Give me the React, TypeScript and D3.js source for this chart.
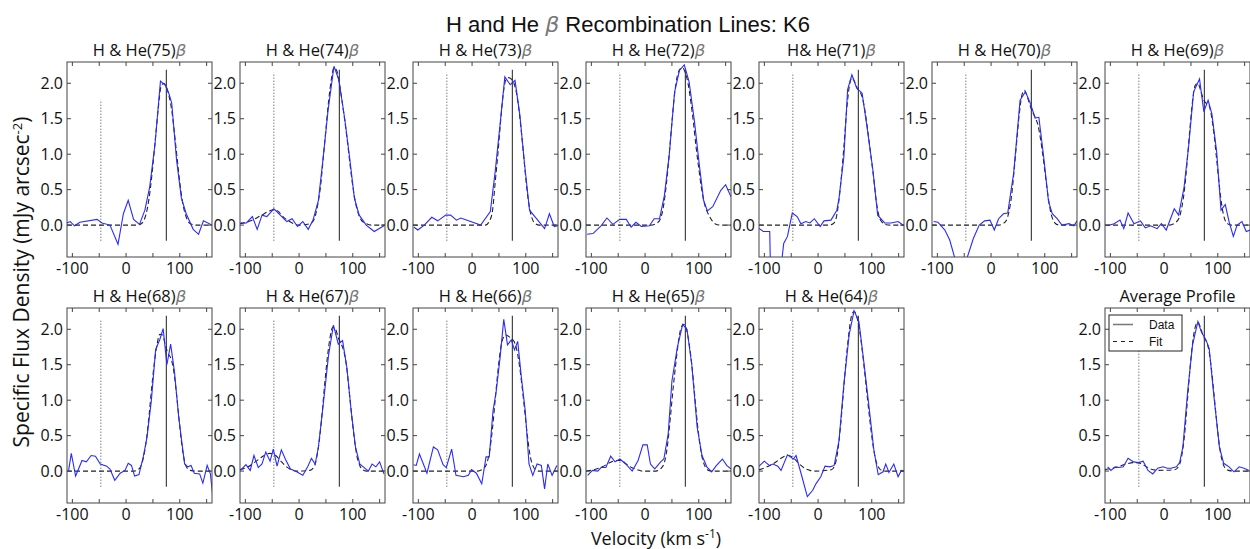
import React from "react";
import * as d3 from "d3";

type Pt = [number, number];

const panelTitles = ["H & He(75)", "H & He(74)", "H & He(73)", "H & He(72)", "H& He(71)", "H & He(70)", "H & He(69)", "H & He(68)", "H & He(67)", "H & He(66)", "H & He(65)", "H & He(64)", "Average Profile"];
const panelHasBeta = [true, true, true, true, true, true, true, true, true, true, true, true, false];

const data75: Pt[] = [[-110,0.03],[-104,0.05],[-96,-0.01],[-86,0.04],[-54,0.08],[-45,0.03],[-30,0.0],[-15,-0.27],[-5,0.16],[4,0.35],[14,0.08],[25,0.01],[35,0.21],[44,0.54],[54,1.15],[64,2.03],[73,1.97],[80,1.85],[85,1.72],[94,0.92],[103,0.38],[112,0.16],[125,-0.06],[135,-0.13],[144,0.06],[160,0.0]];
const data74: Pt[] = [[-109,0.03],[-98,0.03],[-87,0.12],[-78,-0.06],[-69,0.14],[-60,0.12],[-47,0.23],[-35,0.14],[-23,0.05],[-13,0.09],[-3,-0.02],[7,0.05],[17,-0.06],[26,0.07],[36,0.35],[45,0.96],[54,1.62],[65,2.24],[74,2.05],[85,1.5],[94,0.96],[103,0.38],[112,0.14],[125,0.0],[140,-0.09],[158,-0.01]];
const data73: Pt[] = [[-108,-0.03],[-101,-0.07],[-89,0.0],[-75,0.11],[-64,0.06],[-49,0.14],[-40,0.14],[-29,0.07],[-21,0.1],[16,0.0],[34,0.19],[43,0.75],[52,1.41],[61,2.09],[71,1.98],[80,2.04],[89,1.55],[98,0.84],[107,0.21],[120,0.09],[135,-0.05],[144,0.16],[153,-0.02],[160,-0.01]];
const data72: Pt[] = [[-108,-0.13],[-97,-0.12],[-82,-0.01],[-71,0.1],[-60,0.01],[-47,0.08],[-35,0.08],[-26,-0.03],[-17,0.04],[-7,-0.02],[8,-0.01],[17,0.09],[27,0.09],[36,0.42],[45,0.99],[55,1.88],[64,2.18],[73,2.26],[82,2.02],[92,1.46],[101,0.85],[109,0.35],[116,0.2],[126,0.26],[141,0.49],[150,0.57],[160,0.4]];
const data71: Pt[] = [[-111,-0.04],[-102,-0.09],[-90,-0.09],[-88,-0.9],[-72,-0.8],[-64,-0.26],[-57,-0.16],[-48,0.17],[-39,0.12],[-32,0.02],[-23,0.05],[-15,0.03],[-7,0.09],[4,-0.02],[11,0.06],[24,0.07],[35,0.21],[39,0.38],[48,0.96],[55,1.91],[63,2.12],[72,1.93],[82,1.86],[92,1.34],[102,0.78],[111,0.14],[124,0.03],[136,0.03],[149,0.05],[160,-0.01]];
const data70: Pt[] = [[-107,0.05],[-99,0.04],[-86,-0.07],[-77,-0.21],[-57,-0.75],[-33,-0.19],[-22,0.0],[-12,0.06],[-2,0.07],[6,-0.07],[14,0.09],[23,0.16],[31,0.17],[42,0.73],[54,1.76],[64,1.88],[73,1.72],[82,1.51],[89,1.52],[98,0.96],[107,0.33],[114,0.16],[123,0.09],[132,0.0],[145,0.02],[154,-0.01],[162,0.08]];
const data69: Pt[] = [[-106,-0.01],[-93,0.02],[-82,0.07],[-75,-0.05],[-67,0.17],[-56,0.02],[-44,0.06],[-35,-0.04],[-25,-0.01],[-13,-0.05],[-5,0.02],[4,-0.07],[19,0.23],[27,0.14],[37,0.52],[46,1.13],[55,1.88],[66,2.06],[74,1.6],[82,1.76],[89,1.57],[98,1.03],[106,0.21],[114,0.29],[121,0.05],[129,-0.16],[136,0.0],[145,0.05],[153,-0.09],[160,-0.07]];
const data68: Pt[] = [[-107,0.01],[-102,0.25],[-94,-0.07],[-82,0.15],[-74,0.13],[-65,0.22],[-57,0.21],[-48,0.1],[-36,0.07],[-30,0.03],[-21,-0.13],[-11,-0.03],[-2,0.01],[4,0.11],[10,0.08],[16,-0.07],[24,-0.05],[32,0.2],[39,0.48],[47,0.99],[55,1.71],[63,1.86],[69,2.01],[76,1.5],[83,1.79],[90,1.41],[98,0.76],[109,0.1],[115,0.06],[121,0.08],[127,-0.03],[137,-0.04],[143,-0.17],[151,0.08],[157,-0.04],[161,-0.32]];
const data67: Pt[] = [[-109,0.01],[-99,0.09],[-91,0.01],[-84,0.22],[-76,0.05],[-69,0.1],[-62,0.27],[-54,0.14],[-48,0.31],[-41,0.07],[-33,0.3],[-25,0.16],[-16,0.03],[-7,0.0],[7,-0.06],[16,0.06],[23,0.18],[30,0.1],[36,0.34],[45,0.94],[55,1.64],[64,2.06],[73,1.79],[81,1.84],[89,1.46],[97,0.85],[105,0.34],[113,0.1],[129,0.0],[136,0.1],[143,0.06],[150,0.13],[158,-0.04]];
const data66: Pt[] = [[-109,0.09],[-104,0.08],[-98,0.24],[-84,-0.03],[-72,0.34],[-64,0.3],[-54,0.09],[-48,0.05],[-38,0.31],[-30,-0.06],[-16,-0.08],[-7,-0.06],[-1,0.02],[8,-0.03],[18,-0.18],[26,0.2],[32,0.2],[39,0.85],[45,1.13],[52,1.59],[59,2.14],[66,1.78],[73,1.85],[79,1.71],[85,1.83],[92,1.31],[99,0.85],[106,0.1],[113,-0.06],[121,0.1],[129,0.08],[135,-0.25],[141,0.1],[149,-0.06],[158,0.08]];
const data65: Pt[] = [[-107,-0.06],[-98,0.01],[-88,0.0],[-82,0.05],[-73,0.05],[-64,0.21],[-56,0.13],[-47,0.17],[-36,0.1],[-24,0.0],[-13,0.15],[-4,0.37],[4,0.37],[10,0.1],[18,0.03],[29,0.13],[35,0.17],[43,0.52],[50,1.27],[60,1.74],[70,2.07],[78,2.0],[87,1.5],[97,0.62],[106,0.22],[115,0.06],[124,-0.01],[133,0.08],[144,0.17],[152,0.08],[160,0.03]];
const data64: Pt[] = [[-110,0.07],[-100,0.14],[-91,0.08],[-84,0.1],[-75,0.07],[-69,0.01],[-57,0.23],[-46,0.17],[-41,0.22],[-30,-0.08],[-20,-0.36],[-10,-0.27],[-4,-0.18],[5,-0.08],[13,0.07],[22,0.06],[30,0.08],[39,0.43],[48,1.22],[58,1.93],[67,2.26],[76,2.11],[85,1.55],[95,0.9],[104,0.29],[112,-0.05],[121,-0.01],[126,0.1],[132,-0.02],[141,0.1],[149,-0.08],[155,0.01],[162,0.0]];
const dataAvg: Pt[] = [[-105,0.06],[-99,0.01],[-91,0.06],[-84,0.05],[-76,0.06],[-67,0.18],[-57,0.13],[-47,0.12],[-39,0.14],[-30,0.01],[-21,-0.04],[-12,0.04],[-2,0.06],[6,0.04],[13,0.04],[23,0.06],[29,0.12],[35,0.34],[44,1.13],[53,1.78],[63,2.11],[69,1.97],[78,1.85],[84,1.73],[93,1.04],[103,0.34],[111,0.11],[121,0.06],[130,-0.01],[140,0.06],[149,0.04],[158,0.01]];

const fit75: Pt[] = [[-110,0],[20,0],[30,0.03],[35,0.1],[40,0.25],[45,0.5],[50,0.85],[55,1.25],[60,1.65],[65,1.95],[70,2.0],[75,1.95],[80,1.82],[85,1.62],[90,1.3],[95,0.95],[100,0.6],[105,0.33],[110,0.16],[115,0.06],[120,0.02],[130,0],[160,0]];
const fit74: Pt[] = [[-110,0.02],[-90,0.06],[-70,0.14],[-55,0.2],[-47,0.22],[-40,0.2],[-30,0.12],[-20,0.06],[-10,0.02],[0,0.0],[20,0.02],[28,0.08],[35,0.3],[40,0.55],[45,0.95],[50,1.35],[55,1.75],[60,2.05],[65,2.22],[70,2.18],[75,2.0],[80,1.75],[85,1.48],[90,1.18],[95,0.85],[100,0.55],[105,0.32],[110,0.17],[115,0.08],[120,0.04],[125,0.02],[135,0],[160,0]];
const fit73: Pt[] = [[-110,0],[25,0],[32,0.05],[38,0.2],[43,0.6],[48,1.0],[53,1.45],[58,1.85],[63,2.05],[68,2.08],[73,2.06],[78,2.0],[83,1.85],[88,1.58],[93,1.22],[98,0.82],[103,0.45],[108,0.2],[113,0.07],[118,0.02],[125,0],[160,0]];
const fit72: Pt[] = [[-110,0],[10,0],[20,0.02],[28,0.08],[35,0.3],[40,0.6],[45,1.0],[50,1.45],[55,1.85],[60,2.1],[65,2.2],[70,2.22],[75,2.15],[80,2.0],[85,1.75],[90,1.45],[95,1.1],[100,0.8],[105,0.52],[110,0.32],[115,0.2],[120,0.12],[125,0.06],[130,0.02],[140,0],[160,0]];
const fit71: Pt[] = [[-110,0],[20,0],[28,0.02],[33,0.08],[38,0.3],[43,0.65],[48,1.1],[53,1.6],[58,1.95],[63,2.08],[68,2.02],[73,1.93],[78,1.88],[83,1.78],[88,1.58],[93,1.3],[98,1.0],[103,0.7],[108,0.36],[113,0.14],[118,0.05],[125,0.01],[135,0],[160,0]];
const fit70: Pt[] = [[-110,0],[15,0],[22,0.02],[28,0.06],[33,0.18],[38,0.4],[43,0.78],[48,1.2],[53,1.6],[58,1.85],[62,1.9],[67,1.82],[72,1.7],[77,1.6],[82,1.52],[87,1.42],[92,1.22],[97,0.95],[102,0.65],[107,0.36],[112,0.15],[117,0.05],[122,0.01],[130,0],[160,0]];
const fit69: Pt[] = [[-110,0],[10,0],[20,0.03],[28,0.1],[33,0.25],[38,0.5],[43,0.9],[48,1.35],[53,1.75],[58,1.97],[63,2.0],[68,1.9],[73,1.78],[78,1.72],[83,1.7],[88,1.55],[93,1.28],[98,0.92],[103,0.55],[108,0.25],[113,0.08],[118,0.02],[125,0],[160,0]];
const fit68: Pt[] = [[-110,0],[15,0],[25,0.04],[32,0.18],[38,0.45],[43,0.8],[48,1.2],[53,1.55],[58,1.8],[63,1.93],[68,1.92],[73,1.78],[78,1.66],[83,1.6],[88,1.45],[93,1.15],[98,0.78],[103,0.42],[108,0.17],[113,0.05],[120,0.01],[130,0],[160,0]];
const fit67: Pt[] = [[-110,0.02],[-95,0.06],[-80,0.14],[-65,0.22],[-55,0.25],[-45,0.23],[-35,0.15],[-25,0.07],[-15,0.02],[-5,0],[20,0.01],[28,0.06],[33,0.2],[38,0.45],[43,0.82],[48,1.25],[53,1.62],[58,1.9],[63,2.03],[68,2.0],[73,1.88],[78,1.8],[83,1.7],[88,1.5],[93,1.15],[98,0.78],[103,0.45],[108,0.2],[113,0.08],[118,0.02],[125,0],[160,0]];
const fit66: Pt[] = [[-110,0],[10,0],[20,0.03],[27,0.1],[33,0.3],[38,0.6],[43,1.0],[48,1.4],[53,1.72],[58,1.88],[63,1.92],[68,1.9],[73,1.87],[78,1.83],[83,1.72],[88,1.5],[93,1.2],[98,0.85],[103,0.5],[108,0.22],[113,0.08],[118,0.02],[125,0],[160,0]];
const fit65: Pt[] = [[-110,0],[-95,0.02],[-80,0.06],[-65,0.12],[-55,0.15],[-45,0.15],[-35,0.1],[-25,0.05],[-15,0.02],[-5,0],[20,0],[30,0.04],[37,0.15],[42,0.38],[47,0.75],[52,1.15],[57,1.5],[62,1.82],[67,2.02],[72,2.07],[77,2.0],[82,1.8],[87,1.5],[92,1.1],[97,0.7],[102,0.38],[107,0.17],[112,0.06],[118,0.01],[125,0],[160,0]];
const fit64: Pt[] = [[-110,0.02],[-95,0.06],[-80,0.12],[-65,0.2],[-55,0.22],[-45,0.18],[-35,0.1],[-25,0.04],[-15,0.01],[-5,0],[25,0.02],[32,0.1],[37,0.3],[42,0.65],[47,1.1],[52,1.55],[57,1.92],[62,2.18],[67,2.25],[72,2.18],[77,2.0],[82,1.72],[87,1.38],[92,1.02],[97,0.68],[102,0.38],[107,0.17],[112,0.06],[118,0.01],[125,0],[160,0]];
const fitAvg: Pt[] = [[-110,0.02],[-90,0.05],[-70,0.1],[-55,0.12],[-45,0.11],[-35,0.07],[-25,0.03],[-10,0.01],[20,0.02],[28,0.08],[33,0.22],[38,0.5],[43,0.95],[48,1.42],[53,1.8],[58,2.03],[63,2.1],[68,2.02],[73,1.9],[78,1.84],[83,1.72],[88,1.45],[93,1.08],[98,0.7],[103,0.36],[108,0.15],[113,0.05],[120,0.01],[130,0],[160,0]];

const panelData = [data75, data74, data73, data72, data71, data70, data69, data68, data67, data66, data65, data64, dataAvg];
const panelFit = [fit75, fit74, fit73, fit72, fit71, fit70, fit69, fit68, fit67, fit66, fit65, fit64, fitAvg];
const dottedTop = [1.77, 2.15, 2.15, 2.15, 2.15, 2.15, 2.15, 2.15, 2.15, 2.15, 2.15, 2.15, 2.15];

const restVelocity = 75;
const offsetVelocity = -47;
const lineBottom = -0.22;
const solidTop = 2.19;

const xDomain: [number, number] = [-110, 160];
const yDomain: [number, number] = [-0.45, 2.3];
const xTicks = [-100, -50, 0, 50, 100, 150];
const xTickLabels = [-100, 0, 100];
const yTicks = [0, 0.5, 1.0, 1.5, 2.0];

// layout
const W = 1250, H = 549;
const PW = 145, PH = 195;
const rowTop = [62, 308];
const colLeft = (c: number) => 67 + c * 173;
const panelPos: [number, number][] = [[0,0],[0,1],[0,2],[0,3],[0,4],[0,5],[0,6],[1,0],[1,1],[1,2],[1,3],[1,4],[1,6]];

const tickFont = "'Open Sans', 'DejaVu Sans', sans-serif";
const titleFont = "'Liberation Sans', Arial, sans-serif";

function Panel({ i }: { i: number }) {
  const [r, c] = panelPos[i];
  const left = colLeft(c);
  const top = rowTop[r];
  const x = d3.scaleLinear().domain(xDomain).range([left, left + PW]);
  const y = d3.scaleLinear().domain(yDomain).range([top + PH, top]);
  const line = d3.line<Pt>().x(d => x(d[0])).y(d => y(d[1]));
  const fitLine = d3.line<Pt>().x(d => x(d[0])).y(d => y(d[1])).curve(d3.curveMonotoneX);
  const clipId = `clip${i}`;
  const bottom = top + PH;
  const right = left + PW;
  const tl = 4;
  return (
    <g>
      <defs>
        <clipPath id={clipId}><rect x={left} y={top} width={PW} height={PH} /></clipPath>
      </defs>
      <g clipPath={`url(#${clipId})`}>
        <line x1={x(offsetVelocity)} x2={x(offsetVelocity)} y1={y(lineBottom)} y2={y(dottedTop[i])} stroke="#444" strokeWidth={1} strokeDasharray="1,2" />
        <line x1={x(restVelocity)} x2={x(restVelocity)} y1={y(lineBottom)} y2={y(solidTop)} stroke="#333" strokeWidth={1.1} />
        <path d={fitLine(panelFit[i]) || ""} fill="none" stroke="#222" strokeWidth={1.1} strokeDasharray="5,3" />
        <path d={line(panelData[i]) || ""} fill="none" stroke="#2a2aff" strokeWidth={1.1} />
      </g>
      <rect x={left} y={top} width={PW} height={PH} fill="none" stroke="#444" strokeWidth={1} />
      {xTicks.map(t => (
        <g key={"xt" + t}>
          <line x1={x(t)} x2={x(t)} y1={bottom} y2={bottom - tl} stroke="#444" />
          <line x1={x(t)} x2={x(t)} y1={top} y2={top + tl} stroke="#444" />
        </g>
      ))}
      {xTickLabels.map(t => (
        <text key={"xl" + t} x={x(t)} y={bottom + 17} textAnchor="middle" fontFamily={tickFont} fontSize={16} fill="#111">{t}</text>
      ))}
      {yTicks.map(t => (
        <g key={"yt" + t}>
          <line x1={left} x2={left + tl} y1={y(t)} y2={y(t)} stroke="#444" />
          <line x1={right} x2={right - tl} y1={y(t)} y2={y(t)} stroke="#444" />
          <text x={left - 4} y={y(t)} dy="0.36em" textAnchor="end" fontFamily={tickFont} fontSize={16} fill="#111">{t.toFixed(1)}</text>
        </g>
      ))}
      <text x={left + PW / 2} y={top - 6} textAnchor="middle" fontFamily={tickFont} fontSize={16.5} fill="#111">
        {panelTitles[i]}
        {panelHasBeta[i] && <tspan fontStyle="italic" fill="#777" fontFamily="'DejaVu Sans', sans-serif">β</tspan>}
      </text>
      {i === 12 && (
        <g>
          <rect x={left + 4} y={top + 7} width={73} height={36} fill="#fff" stroke="#222" strokeWidth={1} />
          <line x1={left + 8} x2={left + 28} y1={top + 16.5} y2={top + 16.5} stroke="#777" strokeWidth={1.5} />
          <text x={left + 44} y={top + 20.5} fontFamily={titleFont} fontSize={12} fill="#111">Data</text>
          <line x1={left + 8} x2={left + 28} y1={top + 33.5} y2={top + 33.5} stroke="#222" strokeWidth={1} strokeDasharray="4,4" />
          <text x={left + 44} y={top + 37.5} fontFamily={titleFont} fontSize={12} fill="#111">Fit</text>
        </g>
      )}
    </g>
  );
}

export default function App() {
  return (
    <svg width={W} height={H} style={{ position: "absolute", left: 0, top: 0, background: "#fff" }}>
      <rect x={0} y={0} width={W} height={H} fill="#fff" />
      <text x={628} y={32} textAnchor="middle" fontFamily={titleFont} fontSize={22} fill="#111">
        H and He <tspan fontStyle="italic" fill="#777" fontFamily="'DejaVu Sans', sans-serif">β</tspan> Recombination Lines: K6
      </text>
      {panelTitles.map((_, i) => <Panel key={i} i={i} />)}
      <text transform="translate(29,282) rotate(-90)" textAnchor="middle" fontFamily={tickFont} fontSize={21} fill="#111">
        Specific Flux Density (mJy arcsec<tspan dy={-7} fontSize={13}>-2</tspan><tspan dy={7}>)</tspan>
      </text>
      <text x={656} y={544.5} textAnchor="middle" fontFamily={tickFont} fontSize={18} fill="#111">
        Velocity (km s<tspan dy={-7} fontSize={12}>-1</tspan><tspan dy={7}>)</tspan>
      </text>
    </svg>
  );
}
